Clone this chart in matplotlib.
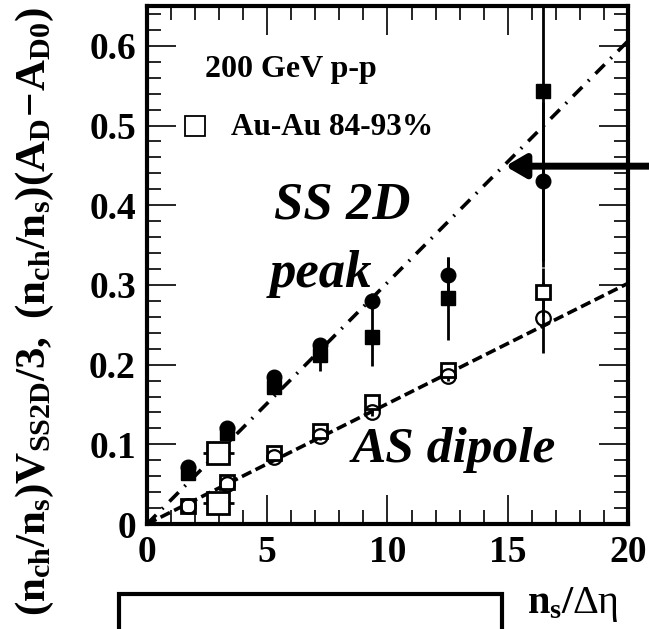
import numpy as np
import matplotlib.pyplot as plt
from matplotlib.ticker import MultipleLocator, FuncFormatter
from matplotlib.patches import Rectangle

plt.rcParams['font.family'] = 'Liberation Serif'
plt.rcParams['font.weight'] = 'bold'
plt.rcParams['mathtext.fontset'] = 'custom'
plt.rcParams['mathtext.rm'] = 'Liberation Serif'
plt.rcParams['mathtext.bf'] = 'Liberation Serif:bold'
plt.rcParams['mathtext.it'] = 'Liberation Serif:bold:italic'
plt.rcParams['mathtext.default'] = 'bf'

# n_s / delta-eta bins
ns = [1.72, 3.34, 5.28, 7.19, 9.36, 12.5, 16.45]

# SS 2D peak
pp_peak = [0.071, 0.120, 0.185, 0.225, 0.280, 0.313, 0.430]
pp_peak_err = [0.004, 0.005, 0.005, 0.006, 0.010, 0.022, 0.10]
auau_peak = [0.064, 0.114, 0.172, 0.212, 0.235, 0.283, 0.543]
auau_peak_err = [0.004, 0.005, 0.006, 0.020, 0.037, 0.052, 0.22]

# AS dipole
pp_dip = [0.023, 0.050, 0.0845, 0.110, 0.141, 0.186, 0.259]
pp_dip_err = [0.003, 0.003, 0.004, 0.004, 0.005, 0.006, 0.045]
auau_dip = [0.022, 0.053, 0.0887, 0.1167, 0.153, 0.193, 0.291]
auau_dip_err = [0.003, 0.003, 0.004, 0.004, 0.005, 0.006, 0.03]

# peripheral Au-Au points with horizontal bars
per_x = [2.97, 2.97]
per_xerr = [0.66, 0.66]
per_y = [0.0887, 0.026]

# straight-line trends
peak_slope = 0.0303
dip_slope = 0.0151

fig = plt.figure(figsize=(6.49, 6.29), dpi=100)
ax = fig.add_axes([0.2265, 0.1669, 0.7411, 0.8236])
ax.set_xlim(0, 20)
ax.set_ylim(0, 0.65)

xl = np.array([0, 20])
ax.plot(xl, peak_slope * xl, color='black', lw=2.6, dashes=[3.6, 2.3, 0.5, 2.4])
ax.plot(xl, dip_slope * xl, color='black', lw=2.6, dashes=[2.9, 1.3])

ekw = dict(ecolor='black', elinewidth=2, capsize=0)
ax.errorbar(ns, auau_peak, yerr=auau_peak_err, fmt='s', ms=10, mfc='black',
            mec='black', **ekw)
ax.errorbar(ns, pp_peak, yerr=pp_peak_err, fmt='o', ms=10.5, mfc='black',
            mec='black', **ekw)
ax.errorbar(ns, auau_dip, yerr=auau_dip_err, fmt='s', ms=10, mfc='white',
            mec='black', mew=2, **ekw)
ax.errorbar(ns, pp_dip, yerr=pp_dip_err, fmt='o', ms=10.5, mfc='none',
            mec='black', mew=1.6, **ekw)
ax.errorbar(per_x, per_y, xerr=per_xerr, fmt='s', ms=16, mfc='white',
            mec='black', mew=2, **ekw)

ax.annotate('', xy=(14.9, 0.449), xytext=(21.2, 0.449),
            xycoords='data', textcoords='data', annotation_clip=False,
            arrowprops=dict(arrowstyle='-|>,head_length=1.2,head_width=0.7',
                            lw=5, color='black', shrinkA=0, shrinkB=0))

ax.text(2.4, 0.570, '200 GeV p-p', fontsize=23, va='center', ha='left')
ax.plot([2.0], [0.50], 's', ms=14, mfc='white', mec='black', mew=1.3)
ax.text(3.5, 0.497, 'Au-Au 84-93%', fontsize=22.5, va='center', ha='left')
ax.text(5.3, 0.40, 'SS 2D', fontsize=38, style='italic', va='center')
ax.text(5.1, 0.297, 'peak', fontsize=38, style='italic', va='baseline')
ax.text(8.5, 0.093, 'AS dipole', fontsize=37, style='italic', va='center')

ax.xaxis.set_major_locator(MultipleLocator(5))
ax.xaxis.set_minor_locator(MultipleLocator(1))
ax.yaxis.set_major_locator(MultipleLocator(0.1))
ax.yaxis.set_minor_locator(MultipleLocator(0.02))
ax.tick_params(which='both', direction='in', top=True, right=True, width=1.2)
ax.tick_params(which='major', length=21, labelsize=27, pad=8)
ax.tick_params(which='minor', length=10)
ax.xaxis.set_major_formatter(FuncFormatter(lambda v, p: f'{v:.0f}'))
ax.yaxis.set_major_formatter(FuncFormatter(lambda v, p: '0' if abs(v) < 1e-9 else f'{v:.1f}'))
for s in ax.spines.values():
    s.set_linewidth(3)

fig.text(0.054, 0.505,
         r'$(n_{ch}/n_s)V_{SS2D}/3,\ (n_{ch}/n_s)(A_D\!-\!A_{D0})$',
         rotation=90, fontsize=31, ha='center', va='center')
fig.text(0.812, 0.025, r'$n_s/$', fontsize=29, ha='left', va='baseline')
fig.text(0.882, 0.025, 'Δη', fontsize=29, fontweight='normal',
         ha='left', va='baseline')

fig.add_artist(Rectangle((119 / 649, -0.05), (502 - 119) / 649, 0.05 + 1 - 594 / 629,
                         transform=fig.transFigure, fill=False, lw=3,
                         edgecolor='black', clip_on=False))

fig.savefig('out.png', dpi=100)
